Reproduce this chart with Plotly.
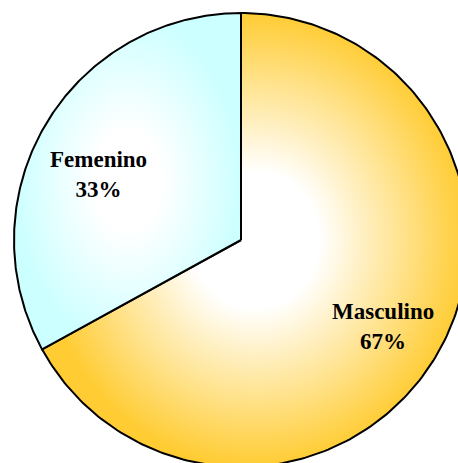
import numpy as np
import plotly.graph_objects as go

categories = ["Masculino", "Femenino"]
values = [67, 33]
edge_colors = ["#FFCC33", "#CCFFFF"]

W, H = 458, 463
CX, CY, R = 241, 240, 227  # pie centre / radius in px

fig = go.Figure()

total = float(sum(values))
start = 0.0
label_pos = {"Masculino": (383, 326), "Femenino": (98, 174)}
for cat, val, col in zip(categories, values, edge_colors):
    span = val / total * 2 * np.pi
    th = np.linspace(start, start + span, 240)
    xs = np.concatenate([[0], np.sin(th), [0]])
    ys = np.concatenate([[0], np.cos(th), [0]])
    fig.add_trace(go.Scatter(
        x=xs, y=ys, mode="lines", fill="toself",
        line=dict(color="black", width=2),
        fillgradient=dict(type="radial",
                          colorscale=[[0, "#FFFFFF"], [0.3, "#FFFFFF"], [1, col]]),
        hoverinfo="skip", showlegend=False,
    ))
    lx, ly = label_pos[cat]
    fig.add_annotation(
        x=(lx - CX) / R, y=(CY - ly) / R,
        xref="x", yref="y",
        text=f"<b>{cat}<br>{int(round(val / total * 100))}%</b>",
        showarrow=False, align="center",
        font=dict(family="Liberation Serif", size=23, color="black"),
    )
    start += span

fig.update_layout(
    width=W, height=H,
    margin=dict(l=0, r=0, t=0, b=0),
    paper_bgcolor="white", plot_bgcolor="white",
    xaxis=dict(range=[(0 - CX) / R, (W - CX) / R], visible=False, fixedrange=True),
    yaxis=dict(range=[(CY - H) / R, (CY - 0) / R], visible=False, fixedrange=True),
)

fig.write_html(
    "out.html",
    config={"displayModeBar": False},
    post_script=(
        "document.body.style.margin='0';"
        "document.body.style.overflow='hidden';"
        "document.documentElement.style.overflow='hidden';"
    ),
)
